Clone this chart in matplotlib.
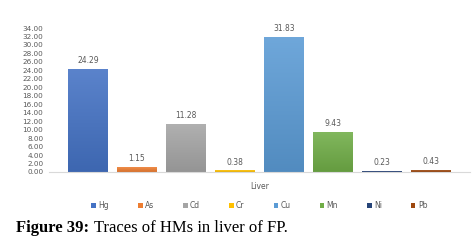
import matplotlib
matplotlib.use("Agg")
import matplotlib.pyplot as plt
import matplotlib.colors as mcolors
import numpy as np

metals = ["Hg", "As", "Cd", "Cr", "Cu", "Mn", "Ni", "Pb"]
liver = [24.29, 1.15, 11.28, 0.38, 31.83, 9.43, 0.23, 0.43]
colors = ["#4472C4", "#ED7D31", "#A5A5A5", "#FFC000",
          "#5B9BD5", "#70AD47", "#264478", "#9E480E"]
yticks = np.arange(0, 34.01, 2)

fig = plt.figure(figsize=(4.75, 2.46), dpi=100)
ax = fig.add_axes([0.103, 0.301, 0.886, 0.585])

# bar geometry in axes fraction (group spans the category with ~19px margins)
span = 421.0
width = 40 / span
slot = 49 / span
x = 39 / span + np.arange(len(metals)) * slot


def shade(c, f):
    rgb = np.array(mcolors.to_rgb(c))
    if f > 0:
        return rgb + (1 - rgb) * f
    return rgb * (1 + f)


for xi, v, c, m in zip(x, liver, colors, metals):
    bars = ax.bar(xi, v, width=width, color=c, label=m)
    # excel-style vertical gradient: lighter at top, darker at bottom
    top, bot = shade(c, 0.12), shade(c, -0.1)
    grad = np.linspace(0, 1, 64)[:, None, None]
    img = bot * (1 - grad) + top * grad
    im = ax.imshow(img, extent=(xi - width / 2, xi + width / 2, 0, v),
                   origin="lower", aspect="auto", zorder=2)
    im.set_clip_path(bars[0])
    ax.text(xi, v + 0.9, f"{v:.2f}", ha="center", va="bottom",
            fontsize=5.5, color="#595959")

ax.set_xlim(0, 1)
ax.set_ylim(0, 34)
ax.set_yticks(yticks)
ax.set_yticklabels([f"{t:.2f}" for t in yticks], fontsize=5.2, color="#595959")
ax.set_xticks([0.5])
ax.set_xticklabels(["Liver"], fontsize=5.5, color="#595959")
ax.tick_params(length=0, pad=4)
ax.tick_params(axis="x", pad=7)
for s in ["top", "right", "left"]:
    ax.spines[s].set_visible(False)
ax.spines["bottom"].set_color("#D9D9D9")
ax.spines["bottom"].set_zorder(3)

ax.legend(loc="center", bbox_to_anchor=(0.5, -0.236), ncol=8,
          frameon=False, fontsize=5.5, handlelength=0.6, handleheight=0.6,
          handletextpad=0.3, columnspacing=3.8, labelcolor="#595959")

t1 = fig.text(0.034, 0.055, "Figure 39:", fontsize=12, fontweight="bold",
              family="Liberation Serif")
fig.canvas.draw()
bb = t1.get_window_extent().transformed(fig.transFigure.inverted())
fig.text(bb.x1 + 0.009, 0.055, "Traces of HMs in liver of FP.", fontsize=12,
         family="Liberation Serif")

fig.savefig("out.png", dpi=100)
